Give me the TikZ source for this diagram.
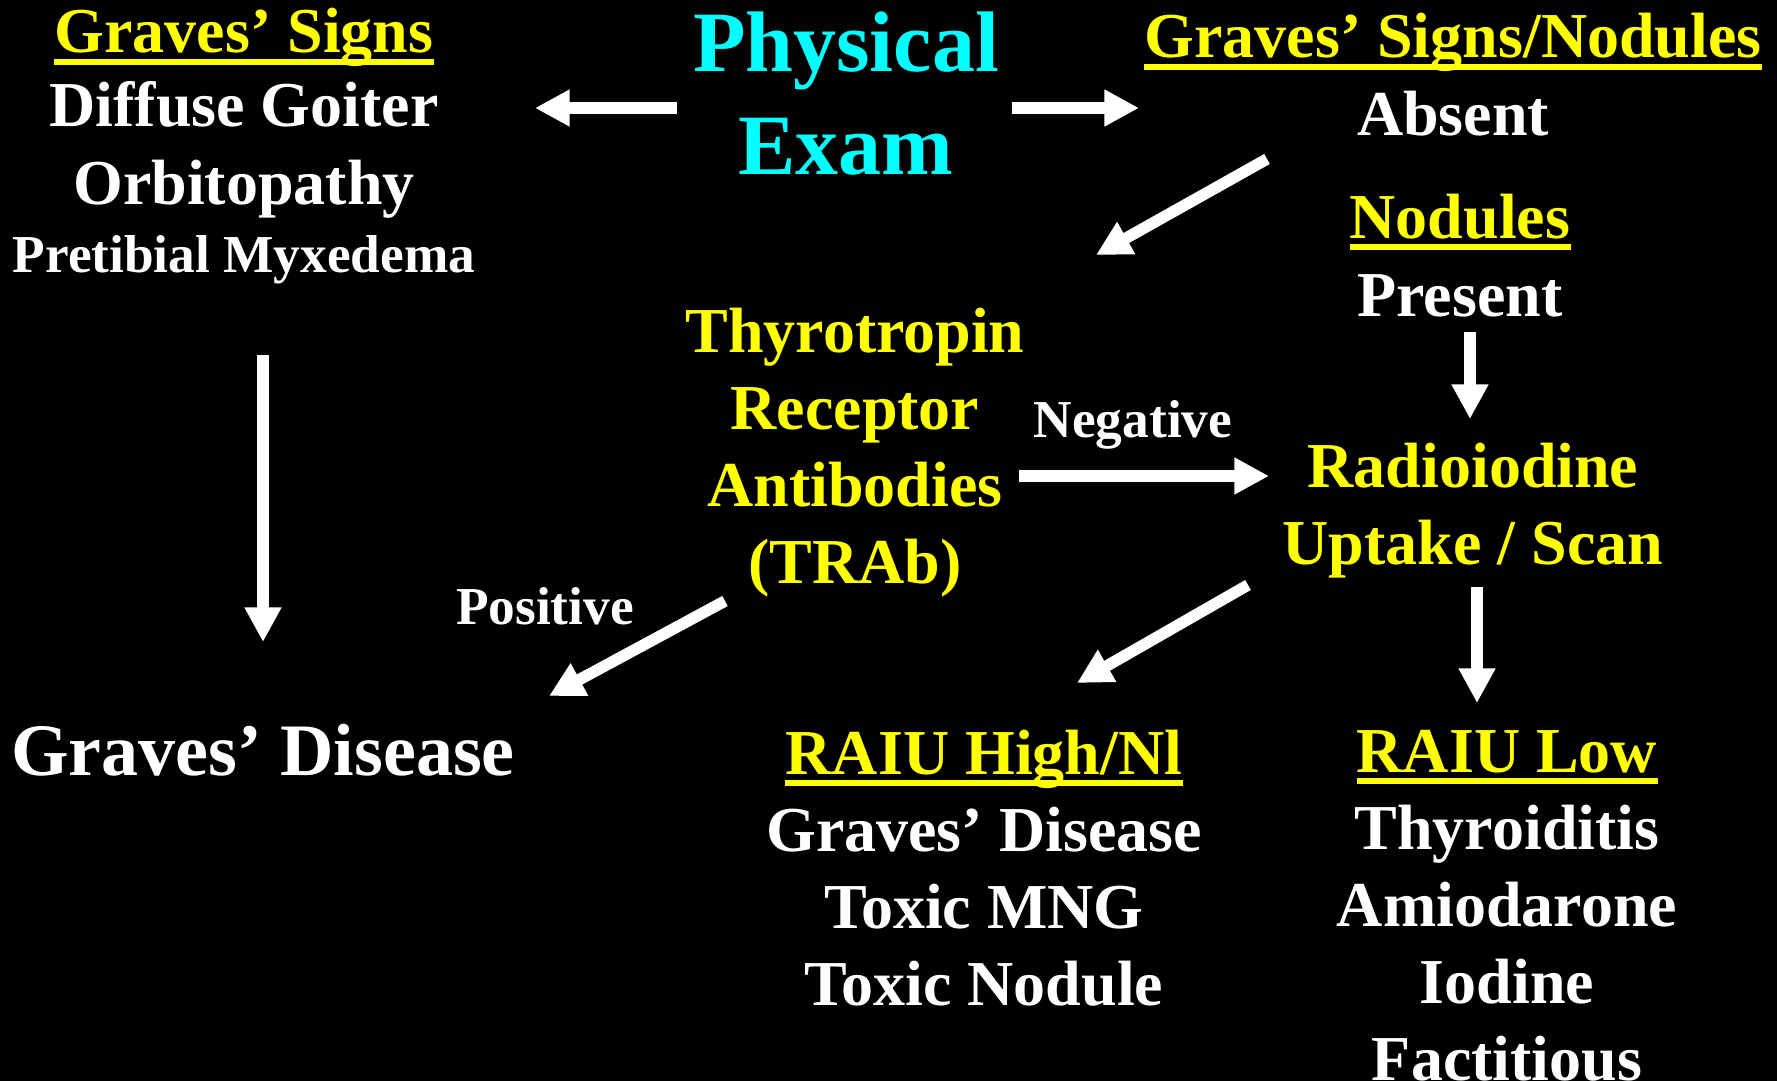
\documentclass[tikz,border=0pt]{standalone}
\usepackage{fontspec}
\setmainfont{Liberation Serif}
\usetikzlibrary{arrows.meta,calc}
\definecolor{ylw}{rgb}{1,1,0}
\definecolor{cyn}{rgb}{0,1,1}

\tikzset{
  txt/.style={text=white, font=\bfseries\fontsize{48}{57}\selectfont, inner sep=0pt, anchor=base},
  hdr/.style={txt, text=ylw},
  sml/.style={txt, font=\bfseries\fontsize{40}{48}\selectfont},
  arr/.style={draw=white, line width=8.6pt, -{Triangle[length=26pt,width=26pt]}},
  uline/.style={draw=ylw, line width=4.5pt},
}

\begin{document}
\begin{tikzpicture}[x=0.75pt,y=0.75pt,yscale=-1,xscale=1]
	\fill[black] (0,0) rectangle (1777,1081);
	\useasboundingbox (0,0) rectangle (1777,1081);

	% Text Node
	\node (phys) at (846,72) [txt, text=cyn, font=\bfseries\fontsize{64.5}{77}\selectfont] {Physical};
	% Text Node
	\node (exam) at (846,174) [txt, text=cyn, font=\bfseries\fontsize{64.5}{77}\selectfont] {Exam};

	% Text Node
	\node (gsign) at (244,53) [hdr] {Graves’ Signs};
	\draw [uline] ($(gsign.base west)+(0,9)$) -- ($(gsign.base east)+(0,9)$);
	% Text Node
	\node (diffuse) at (244,127) [txt] {Diffuse Goiter};
	% Text Node
	\node (orbito) at (244,204) [txt] {Orbitopathy};
	% Text Node
	\node (pretib) at (244,272) [sml] {Pretibial Myxedema};
	% Text Node
	\node (gdis) at (263,775) [txt, font=\bfseries\fontsize{55.5}{66}\selectfont] {Graves’ Disease};

	% Text Node
	\node (gsnod) at (1453,58) [hdr] {Graves’ Signs/Nodules};
	\draw [uline] ($(gsnod.base west)+(0,9)$) -- ($(gsnod.base east)+(0,9)$);
	% Text Node
	\node (absent) at (1453,135) [txt] {Absent};
	% Text Node
	\node (nodules) at (1460,238) [hdr] {Nodules};
	\draw [uline] ($(nodules.base west)+(0,9)$) -- ($(nodules.base east)+(0,9)$);
	% Text Node
	\node (present) at (1460,316) [txt] {Present};

	% Text Node
	\node (thyro) at (855,352) [hdr] {Thyrotropin};
	% Text Node
	\node (recep) at (855,429) [hdr] {Receptor};
	% Text Node
	\node (antib) at (855,506) [hdr] {Antibodies};
	% Text Node
	\node (trab) at (855,583) [hdr] {(TRAb)};
	% Text Node
	\node (neg) at (1133,437) [sml] {Negative};
	% Text Node
	\node (pos) at (545,624) [sml] {Positive};

	% Text Node
	\node (radio) at (1473,487) [hdr] {Radioiodine};
	% Text Node
	\node (uptake) at (1473,564) [hdr] {Uptake / Scan};

	% Text Node
	\node (high) at (984,774) [hdr] {RAIU High/Nl};
	\draw [uline] ($(high.base west)+(0,9)$) -- ($(high.base east)+(0,9)$);
	% Text Node
	\node (gdis2) at (984,851) [txt] {Graves’ Disease};
	% Text Node
	\node (mng) at (984,928) [txt] {Toxic MNG};
	% Text Node
	\node (tnod) at (984,1005) [txt] {Toxic Nodule};

	% Text Node
	\node (low) at (1507,772) [hdr] {RAIU Low};
	\draw [uline] ($(low.base west)+(0,9)$) -- ($(low.base east)+(0,9)$);
	% Text Node
	\node (thyroid) at (1507,849) [txt] {Thyroiditis};
	% Text Node
	\node (amio) at (1507,926) [txt] {Amiodarone};
	% Text Node
	\node (iodine) at (1507,1003) [txt] {Iodine};
	% Text Node
	\node (fact) at (1507,1080) [txt] {Factitious};

	% arrow ends
	\coordinate (pe_w) at (677,108);
	\coordinate (gs_e) at (535,108);
	\coordinate (pe_e) at (1012,108);
	\coordinate (gn_w) at (1139,108);
	\coordinate (ab_s) at (1267,159);
	\coordinate (tr_n) at (1096,255);
	\coordinate (pr_s) at (1470,332);
	\coordinate (ra_n) at (1470,419);
	\coordinate (tr_e) at (1019,476);
	\coordinate (ra_w) at (1269,476);
	\coordinate (gs_s) at (263,355);
	\coordinate (gd_n) at (263,642);
	\coordinate (tr_s) at (725,601);
	\coordinate (gd_e) at (549,696);
	\coordinate (up_sw) at (1248,585);
	\coordinate (hi_n) at (1077,683);
	\coordinate (up_s) at (1477,587);
	\coordinate (lo_n) at (1477,703);

	%Straight Lines
	\draw [arr] (pe_w) -- (gs_e);
	%Straight Lines
	\draw [arr] (pe_e) -- (gn_w);
	%Straight Lines
	\draw [arr] (ab_s) -- (tr_n);
	%Straight Lines
	\draw [arr] (pr_s) -- (ra_n);
	%Straight Lines
	\draw [arr] (tr_e) -- (ra_w);
	%Straight Lines
	\draw [arr] (gs_s) -- (gd_n);
	%Straight Lines
	\draw [arr] (tr_s) -- (gd_e);
	%Straight Lines
	\draw [arr] (up_sw) -- (hi_n);
	%Straight Lines
	\draw [arr] (up_s) -- (lo_n);

\end{tikzpicture}
\end{document}
